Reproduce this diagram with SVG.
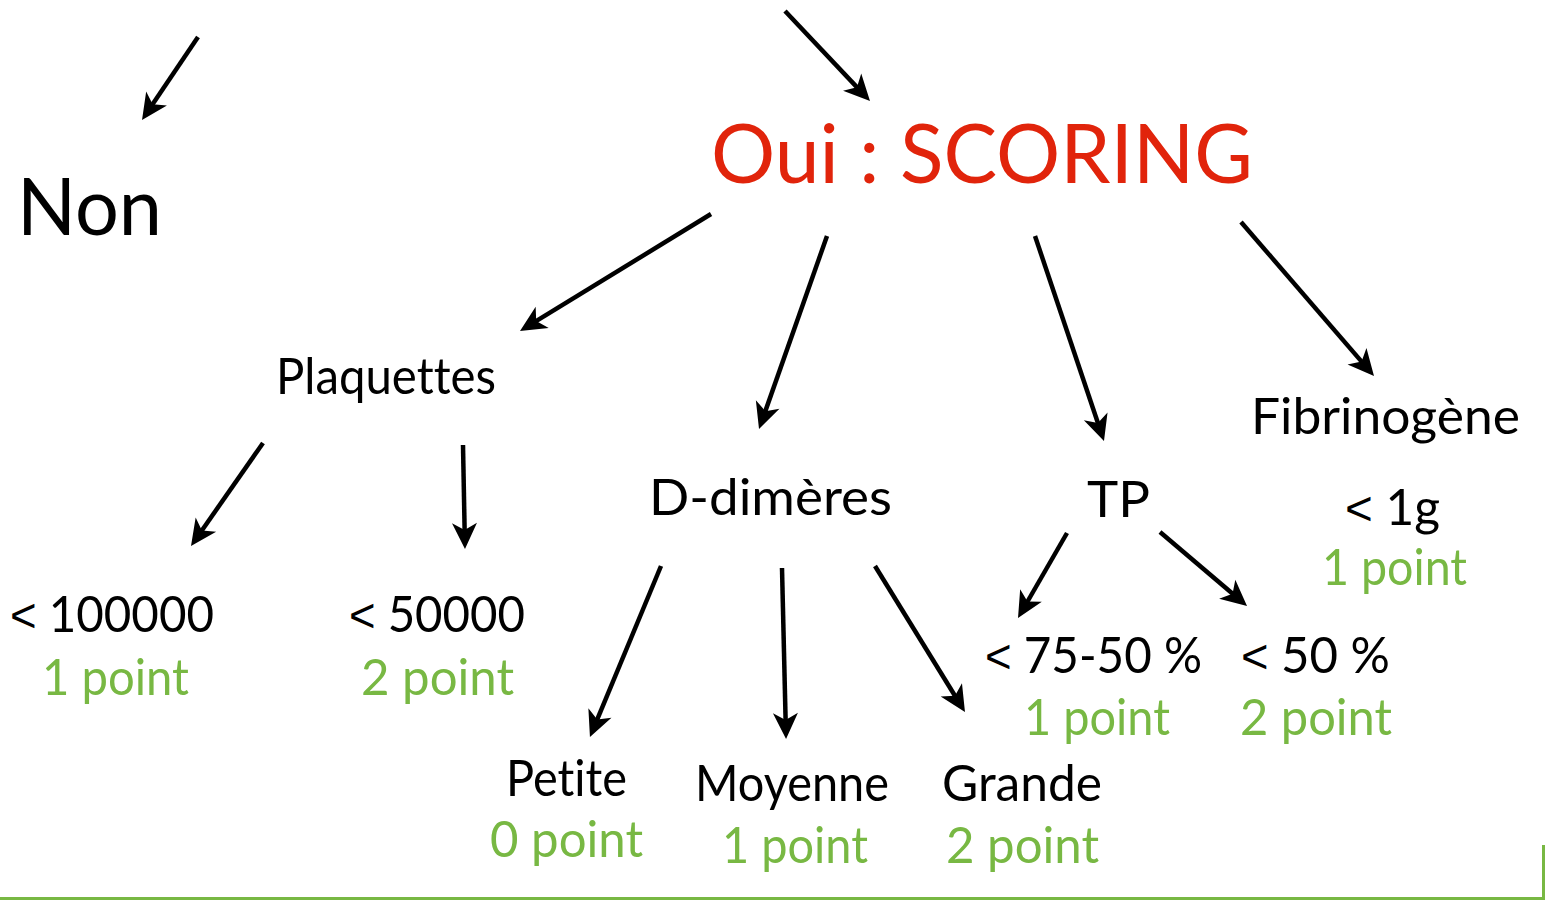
<svg xmlns="http://www.w3.org/2000/svg" width="1548" height="900" viewBox="0 0 1548 900">
  <style>
    text { font-family: "Lato", "Open Sans", "Liberation Sans", sans-serif; font-variant-ligatures: none; }
    .lbl { font-size: 50px; fill: #000; }
    .pts { font-size: 50px; fill: #78b843; }
    .big { font-size: 80px; fill: #000; }
    .red { font-size: 81px; fill: #e1240b; }
    .lt { font-family: "Liberation Sans", sans-serif; font-size: 48px; }
    .arr { stroke: #000; stroke-width: 4.5; fill: none; marker-end: url(#head); }
  </style>
  <defs>
    <marker id="head" markerUnits="userSpaceOnUse" markerWidth="44" markerHeight="34" viewBox="-14 -17 44 34" refX="0" refY="0" orient="auto">
      <path d="M-11,-12.5 L15,0 L-11,12.5 L-4,0 Z" fill="#000"/>
    </marker>
  </defs>

  <!-- connectors -->
  <g id="connectors">
    <line class="arr" x1="198" y1="37" x2="150.4" y2="107.6"/>
    <line class="arr" x1="785" y1="11" x2="859.7" y2="90.1"/>
    <line class="arr" x1="711" y1="214" x2="532.8" y2="323.2"/>
    <line class="arr" x1="827" y1="236" x2="764" y2="414.9"/>
    <line class="arr" x1="1035" y1="236" x2="1099.2" y2="426.8"/>
    <line class="arr" x1="1241" y1="222" x2="1364.2" y2="364.6"/>
    <line class="arr" x1="263" y1="443" x2="199.6" y2="533.7"/>
    <line class="arr" x1="463" y1="445" x2="464.7" y2="534"/>
    <line class="arr" x1="661" y1="566" x2="595.7" y2="723.2"/>
    <line class="arr" x1="782" y1="568" x2="785.7" y2="724"/>
    <line class="arr" x1="875" y1="566" x2="957.1" y2="699.2"/>
    <line class="arr" x1="1067" y1="533" x2="1025.5" y2="605"/>
    <line class="arr" x1="1160" y1="532" x2="1235.6" y2="596.3"/>
  </g>

  <!-- nodes -->
  <g id="non"><text class="big" x="17" y="235" textLength="145" lengthAdjust="spacingAndGlyphs">Non</text></g>
  <g id="oui"><text class="red" x="711" y="183" textLength="542" lengthAdjust="spacingAndGlyphs">Oui : SCORING</text></g>

  <g id="plaquettes"><text class="lbl" x="276" y="394" textLength="220" lengthAdjust="spacingAndGlyphs">Plaquettes</text></g>
  <g id="ddimeres"><text class="lbl" x="649" y="515" textLength="243" lengthAdjust="spacingAndGlyphs">D-dimères</text></g>
  <g id="tp"><text class="lbl" x="1087" y="517" textLength="63" lengthAdjust="spacingAndGlyphs">TP</text></g>
  <g id="fibrinogene"><text class="lbl" x="1251" y="434" textLength="269" lengthAdjust="spacingAndGlyphs">Fibrinogène</text></g>

  <g id="fib-seuil">
    <text class="lbl" x="1345" y="525" textLength="95" lengthAdjust="spacingAndGlyphs"><tspan class="lt">&lt;</tspan> 1g</text>
    <text class="pts" x="1322" y="585" textLength="145" lengthAdjust="spacingAndGlyphs">1 point</text>
  </g>

  <g id="plaq-100000">
    <text class="lbl" x="10" y="632" textLength="204" lengthAdjust="spacingAndGlyphs"><tspan class="lt">&lt;</tspan> 100000</text>
    <text class="pts" x="42" y="695" textLength="147" lengthAdjust="spacingAndGlyphs">1 point</text>
  </g>
  <g id="plaq-50000">
    <text class="lbl" x="349" y="632" textLength="176" lengthAdjust="spacingAndGlyphs"><tspan class="lt">&lt;</tspan> 50000</text>
    <text class="pts" x="361" y="695" textLength="153" lengthAdjust="spacingAndGlyphs">2 point</text>
  </g>

  <g id="tp-75-50">
    <text class="lbl" x="985" y="673" textLength="217" lengthAdjust="spacingAndGlyphs"><tspan class="lt">&lt;</tspan> 75-50 %</text>
    <text class="pts" x="1024" y="735" textLength="146" lengthAdjust="spacingAndGlyphs">1 point</text>
  </g>
  <g id="tp-50">
    <text class="lbl" x="1241" y="673" textLength="149" lengthAdjust="spacingAndGlyphs"><tspan class="lt">&lt;</tspan> 50 %</text>
    <text class="pts" x="1240" y="735" textLength="152" lengthAdjust="spacingAndGlyphs">2 point</text>
  </g>

  <g id="petite">
    <text class="lbl" x="506" y="796" textLength="121" lengthAdjust="spacingAndGlyphs">Petite</text>
    <text class="pts" x="490" y="857" textLength="153" lengthAdjust="spacingAndGlyphs">0 point</text>
  </g>
  <g id="moyenne">
    <text class="lbl" x="695" y="801" textLength="194" lengthAdjust="spacingAndGlyphs">Moyenne</text>
    <text class="pts" x="722" y="863" textLength="146" lengthAdjust="spacingAndGlyphs">1 point</text>
  </g>
  <g id="grande">
    <text class="lbl" x="942" y="801" textLength="160" lengthAdjust="spacingAndGlyphs">Grande</text>
    <text class="pts" x="946" y="863" textLength="153" lengthAdjust="spacingAndGlyphs">2 point</text>
  </g>

  <!-- slide frame edge -->
  <path d="M0,898.5 H1543.5 V845" fill="none" stroke="#78b843" stroke-width="3"/>
</svg>
